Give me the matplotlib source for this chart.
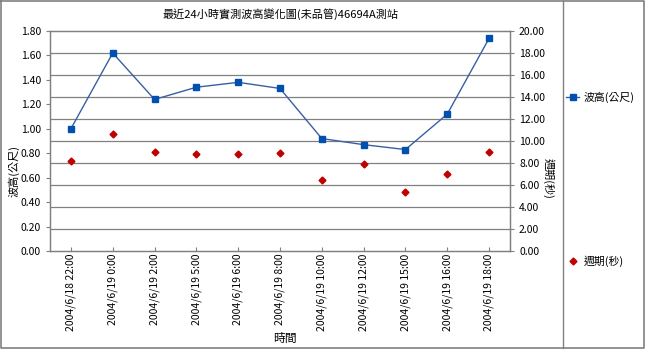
import matplotlib.pyplot as plt
from matplotlib.lines import Line2D

plt.rcParams['font.family'] = ['Noto Sans CJK TC', 'DejaVu Sans']

times = ['2004/6/18 22:00', '2004/6/19 0:00', '2004/6/19 2:00', '2004/6/19 5:00',
         '2004/6/19 6:00', '2004/6/19 8:00', '2004/6/19 10:00', '2004/6/19 12:00',
         '2004/6/19 15:00', '2004/6/19 16:00', '2004/6/19 18:00']
wave_height = [1.00, 1.62, 1.24, 1.34, 1.38, 1.33, 0.92, 0.87, 0.83, 1.12, 1.74]
period = [8.2, 10.6, 9.0, 8.8, 8.8, 8.9, 6.5, 7.9, 5.4, 7.0, 9.0]

W, H = 645, 352
fig = plt.figure(figsize=(6.45, 3.52), dpi=100)
ax = fig.add_axes([50/W, 101/H, 460/W, 220/H])
ax2 = ax.twinx()

x = range(len(times))
grey = '#808080'

# gridlines follow the right axis (every 2.00)
for v in range(2, 20, 2):
    ax2.axhline(v, color=grey, lw=0.9, zorder=0)

ax.plot(x, wave_height, color='#3a5fa0', lw=1, marker='s', ms=4,
        mfc='#0050b0', mec='#0050b0', zorder=3)
ax2.plot(x, period, ls='none', marker='D', ms=3.5, mfc='#c00000',
         mec='#c00000', zorder=3)
ax.set_zorder(ax2.get_zorder() + 1)
ax.patch.set_visible(False)

ax.set_xlim(-0.5, len(times) - 0.5)
ax.set_ylim(0, 1.8)
ax2.set_ylim(0, 20)
ax.set_yticks([i * 0.2 for i in range(10)])
ax.set_yticklabels(['%.2f' % (i * 0.2) for i in range(10)])
ax2.set_yticks(range(0, 21, 2))
ax2.set_yticklabels(['%.2f' % v for v in range(0, 21, 2)])
ax.set_xticks(list(x))
ax.set_xticklabels(times, rotation=90, fontsize=7.5)

for a in (ax, ax2):
    for s in a.spines.values():
        s.set_color(grey)
        s.set_linewidth(0.9)
    a.tick_params(colors=grey, labelcolor='black', labelsize=7.5, length=3, width=0.8)
ax.tick_params(axis='x', direction='in', pad=2)

fig.text(14/W, 1 - 171/H, '波高(公尺)', fontsize=8, rotation=90, ha='center', va='center')
fig.text(548/W, 1 - 178/H, '週期(秒)', fontsize=8, rotation=-90, ha='center', va='center')
fig.text(285/W, 1 - 338/H, '時間', fontsize=8.5, ha='center', va='center')
fig.text(281/W, 1 - 14/H, '最近24小時實測波高變化圖(未品管)46694A測站', fontsize=8,
         ha='center', va='center')

# frame and legend box
fig.add_artist(Line2D([1/W, 1 - 1/W, 1 - 1/W, 1/W, 1/W],
                      [1 - 1/H, 1 - 1/H, 4/H, 4/H, 1 - 1/H],
                      color=grey, lw=1.2))
fig.add_artist(Line2D([563/W, 563/W], [4/H, 1 - 1/H], color=grey, lw=1))

fig.add_artist(Line2D([566/W, 579/W], [1 - 97/H] * 2, color='#3a5fa0', lw=1))
fig.add_artist(Line2D([572.5/W], [1 - 97/H], ls='none', marker='s', ms=4,
                      mfc='#0050b0', mec='#0050b0'))
fig.text(584/W, 1 - 97/H, '波高(公尺)', fontsize=7.8, va='center')
fig.add_artist(Line2D([572.5/W], [1 - 261/H], ls='none', marker='D', ms=3.5,
                      mfc='#c00000', mec='#c00000'))
fig.text(584/W, 1 - 261/H, '週期(秒)', fontsize=7.8, va='center')

fig.savefig('out.png', dpi=100)
